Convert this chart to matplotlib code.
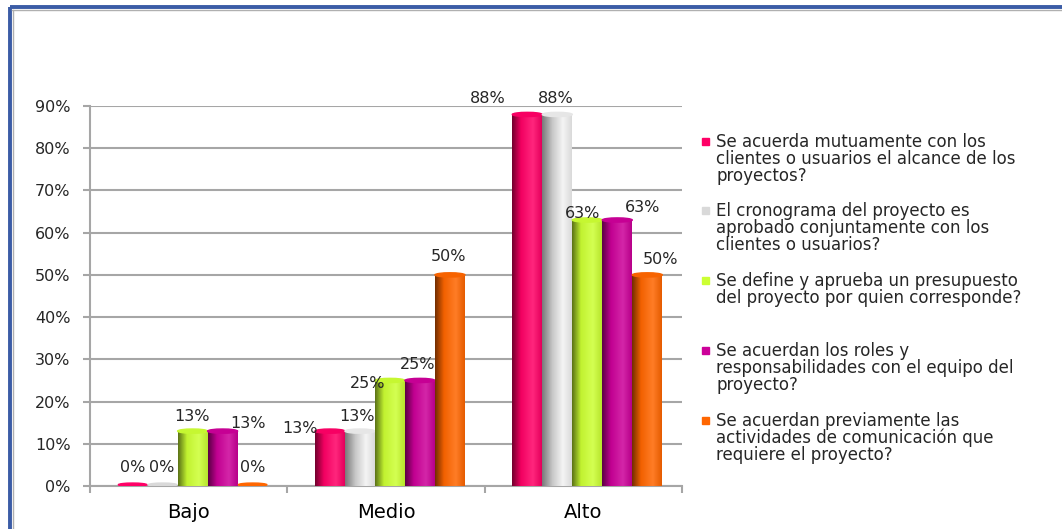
import numpy as np
import matplotlib
matplotlib.use("Agg")
import matplotlib.pyplot as plt
from matplotlib.colors import LinearSegmentedColormap, to_rgb
from matplotlib.lines import Line2D
from matplotlib.patches import Rectangle, Ellipse

plt.rcParams['font.family'] = ['DejaVu Sans']

# datos
niveles = ["Bajo", "Medio", "Alto"]
preguntas = [
    "Se acuerda mutuamente con los\nclientes o usuarios el alcance de los\nproyectos?",
    "El cronograma del proyecto es\naprobado conjuntamente con los\nclientes o usuarios?",
    "Se define y aprueba un presupuesto\ndel proyecto por quien corresponde?",
    "Se acuerdan los roles y\nresponsabilidades con el equipo del\nproyecto?",
    "Se acuerdan previamente las\nactividades de comunicación que\nrequiere el proyecto?",
]
alcance = [0.00, 0.13, 0.88]
cronograma = [0.00, 0.13, 0.88]
presupuesto = [0.13, 0.25, 0.63]
roles = [0.13, 0.25, 0.63]
comunicacion = [0.00, 0.50, 0.50]
series = [alcance, cronograma, presupuesto, roles, comunicacion]
colores = ["#FF0066", "#D9D9D9", "#CCFF33", "#CC0099", "#FF6600"]

# desplazamiento de cada etiqueta respecto al tope de la barra (pixeles)
desp_etiquetas = [
    [(0, 18), (-30, 3), (-40, 16)],
    [(-1, 18), (-3, 15), (-2, 16)],
    [(-1, 15), (-22, -3), (-5, 7)],
    [(25, 8), (-2, 16), (25, 12)],
    [(0, 18), (-1, 18), (13, 15)],
]

W, H = 1062, 529
fig = plt.figure(figsize=(W / 100, H / 100), dpi=100)
fig.patch.set_facecolor("white")

# marco azul del grafico
borde = dict(color="#3B5CA6", lw=2.8, solid_capstyle="butt")
fig.add_artist(Line2D([10 / W, 1.0], [1 - 7 / H, 1 - 7 / H], **borde))
fig.add_artist(Line2D([10 / W, 10 / W], [0, 1 - 7 / H], **borde))
fig.add_artist(Line2D([11.5 / W, 1.0], [1 - 9.5 / H, 1 - 9.5 / H], color="#B0B0B0", lw=1))
fig.add_artist(Line2D([12.5 / W, 12.5 / W], [0, 1 - 9.5 / H], color="#B0B0B0", lw=1))

left, right, bottom, top = 90, 682, 486, 106
ax = fig.add_axes([left / W, 1 - bottom / H, (right - left) / W, (bottom - top) / H])

ancho = 0.152
centro = 0.02


def tono(c, f):
    r = np.array(to_rgb(c))
    if f < 1:
        return tuple(r * f)
    return tuple(r + (1 - r) * (f - 1))


def mapa(color):
    if color == "#D9D9D9":
        return LinearSegmentedColormap.from_list(
            "g", [(0, "#7A7A7A"), (0.35, "#C8C8C8"), (0.7, "#F4F4F4"), (1, "#DADADA")])
    return LinearSegmentedColormap.from_list(
        "c", [(0, tono(color, 0.45)), (0.3, tono(color, 0.95)),
              (0.7, tono(color, 1.15)), (1, tono(color, 0.9))])


def cilindro(x0, alto, color):
    grad = np.linspace(0, 1, 64).reshape(1, -1)
    ax.imshow(grad, cmap=mapa(color), aspect="auto", extent=(x0, x0 + ancho, 0, alto),
              zorder=3, interpolation="bilinear")
    # tapa redondeada del cilindro
    ax.add_patch(Ellipse((x0 + ancho / 2, alto), ancho, 0.01,
                         color=tono(color, 0.97) if color != "#D9D9D9" else "#E6E6E6", zorder=3))


x = np.arange(len(niveles))
for i, (vals, col) in enumerate(zip(series, colores)):
    for j, v in enumerate(vals):
        xc = x[j] + centro + (i - 2) * ancho
        if v > 0:
            cilindro(xc - ancho / 2, v, col)
        else:
            ax.add_patch(Ellipse((xc, 0.003), ancho * 0.95, 0.008, color=col, zorder=3))
        dx, dy = desp_etiquetas[i][j]
        ax.annotate(f"{v:.0%}", (xc, v), xytext=(dx, dy), textcoords="offset pixels",
                    ha="center", va="center", fontsize=11.5, color="#262626", zorder=5)

ax.set_xlim(-0.5, 2.5)
ax.set_ylim(0, 0.9)
ax.set_yticks(np.arange(0, 0.91, 0.1))
ax.set_yticklabels([f"{t}%" for t in range(0, 91, 10)])
ax.yaxis.grid(True, color="#A6A6A6", lw=1.5)
ax.set_axisbelow(True)
ax.set_xticks(x)
ax.set_xticklabels(niveles, fontsize=14)
ax.set_xticks([-0.5, 0.5, 1.5, 2.5], minor=True)
ax.tick_params(axis="x", which="major", length=0, pad=12.5)
ax.tick_params(axis="x", which="minor", length=5, color="#A6A6A6", width=1.5)
ax.tick_params(axis="y", length=5, color="#A6A6A6", width=1.5, labelsize=11.5, pad=9,
               labelcolor="#262626")
for lado in ["top", "right"]:
    ax.spines[lado].set_visible(False)
for lado in ["left", "bottom"]:
    ax.spines[lado].set_color("#A6A6A6")
    ax.spines[lado].set_linewidth(1.5)

# leyenda
filas = [141, 210, 280, 350, 420]
for texto, col, yc in zip(preguntas, colores, filas):
    fig.add_artist(Rectangle((702 / W, 1 - (yc + 3.5) / H), 7 / W, 7 / H,
                             color=col, transform=fig.transFigure))
    fig.text(716 / W, 1 - (yc - 8.5) / H, texto, ha="left", va="top", fontsize=12,
             linespacing=0.93, color="#262626")

fig.savefig("out.png", dpi=100)
